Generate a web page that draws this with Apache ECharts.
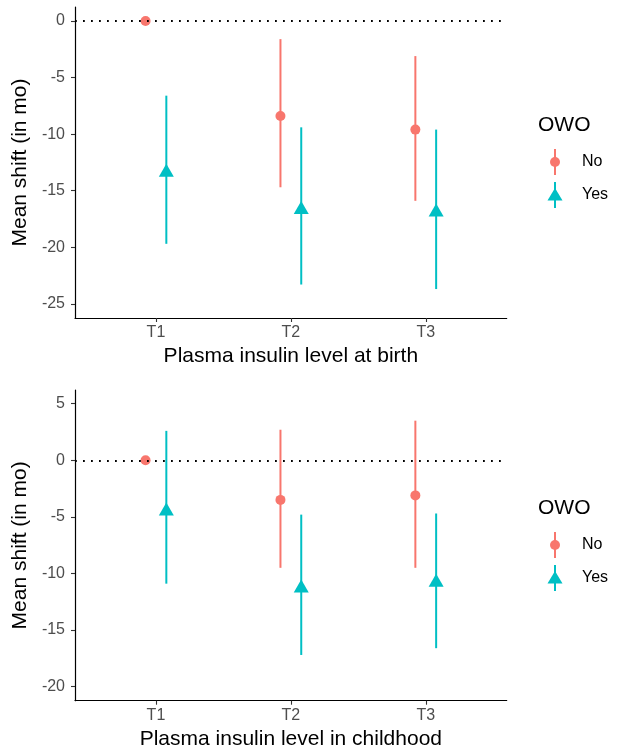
<!DOCTYPE html>
<html>
<head>
<meta charset="utf-8">
<script src="https://cdn.jsdelivr.net/npm/echarts@6/dist/echarts.min.js"></script>
<style>
html,body{margin:0;padding:0;background:#fff;}
#chart{width:617px;height:751px;}
</style>
</head>
<body>
<div id="chart"></div>
<script>
// ---- data ----
const categories = ['T1', 'T2', 'T3'];
const groups = ['No', 'Yes'];
const legendTitle = 'OWO';
const yTitle = 'Mean shift (in mo)';
const xTitleBirth = 'Plasma insulin level at birth';
const xTitleChild = 'Plasma insulin level in childhood';

const birthNoMean  = [0, -8.4, -9.6];
const birthNoLow   = [null, -14.7, -15.9];
const birthNoHigh  = [null, -1.6, -3.1];
const birthYesMean = [-13.2, -16.5, -16.7];
const birthYesLow  = [-19.7, -23.3, -23.7];
const birthYesHigh = [-6.6, -9.4, -9.6];

const childNoMean  = [0, -3.5, -3.1];
const childNoLow   = [null, -9.5, -9.5];
const childNoHigh  = [null, 2.7, 3.5];
const childYesMean = [-4.3, -11.1, -10.6];
const childYesLow  = [-10.9, -17.2, -16.6];
const childYesHigh = [2.6, -4.8, -4.7];

const birthTicks = [-25, -20, -15, -10, -5, 0];
const childTicks = [-20, -15, -10, -5, 0, 5];

// ---- styling ----
const colors = ['#F8766D', '#00BFC4'];
const symbols = ['circle', 'triangle'];
const symbolSizes = [10, [15, 13]];
const dodge = 0.077;
const FONT = 'Liberation Sans, Arial, sans-serif';

const chart = echarts.init(document.getElementById('chart'), null, {renderer: 'canvas'});

function pointData(means, gi) {
  return means.map((m, i) => [i + 1 + (gi === 0 ? -dodge : dodge), m]);
}
function barData(lows, highs, gi) {
  const out = [];
  lows.forEach((lo, i) => {
    if (lo === null || highs[i] === null) return;
    out.push([i + 1 + (gi === 0 ? -dodge : dodge), lo, highs[i]]);
  });
  return out;
}
function errRender(color) {
  return function (params, api) {
    const x = api.value(0), lo = api.value(1), hi = api.value(2);
    const p1 = api.coord([x, lo]), p2 = api.coord([x, hi]);
    return {type: 'line', shape: {x1: p1[0], y1: p1[1], x2: p2[0], y2: p2[1]},
      style: {stroke: color, lineWidth: 2}};
  };
}

const grids = [
  {left: 75, right: 110.3, top: 7, height: 311},
  {left: 75, right: 110.3, top: 390, height: 310.7}
];

function xAxis(gi, title) {
  return {
    type: 'value', gridIndex: gi, min: 0.4, max: 3.6,
    name: title, nameLocation: 'middle', nameGap: 28,
    nameTextStyle: {color: '#000', fontSize: 21, fontFamily: FONT},
    axisLine: {show: true, onZero: false, lineStyle: {color: '#000', width: 1.2}},
    axisTick: {show: true, length: 4, customValues: [1, 2, 3], lineStyle: {color: '#333', width: 1.1}},
    axisLabel: {show: true, customValues: [1, 2, 3], margin: 7, color: '#4D4D4D', fontSize: 16, fontFamily: FONT,
      formatter: v => categories[Math.round(v) - 1]},
    splitLine: {show: false}
  };
}
function yAxis(gi, min, max, ticks) {
  return {
    type: 'value', gridIndex: gi, min: min, max: max,
    name: yTitle, nameLocation: 'middle', nameGap: 40.5, nameRotate: 90,
    nameTextStyle: {color: '#000', fontSize: 21, fontFamily: FONT},
    axisLine: {show: true, onZero: false, lineStyle: {color: '#000', width: 1.2}},
    axisTick: {show: true, length: 4, customValues: ticks, lineStyle: {color: '#333', width: 1.1}},
    axisLabel: {show: true, customValues: ticks, margin: 10, color: '#4D4D4D', fontSize: 16, fontFamily: FONT},
    splitLine: {show: false}
  };
}

const panels = [
  {means: [birthNoMean, birthYesMean], lows: [birthNoLow, birthYesLow], highs: [birthNoHigh, birthYesHigh]},
  {means: [childNoMean, childYesMean], lows: [childNoLow, childYesLow], highs: [childNoHigh, childYesHigh]}
];

const series = [];
panels.forEach((p, pi) => {
  series.push({
    type: 'line', xAxisIndex: pi, yAxisIndex: pi, data: [], z: 1, silent: true,
    markLine: {silent: true, symbol: 'none', label: {show: false},
      lineStyle: {color: '#000', type: [1.8, 6.2], width: 1.8},
      emphasis: {disabled: true},
      data: [{yAxis: 0}]}
  });
  groups.forEach((g, gi) => {
    series.push({
      type: 'custom', name: g, xAxisIndex: pi, yAxisIndex: pi, z: 2, silent: true,
      renderItem: errRender(colors[gi]),
      encode: {x: 0, y: [1, 2]},
      data: barData(p.lows[gi], p.highs[gi], gi)
    });
    series.push({
      type: 'scatter', name: g, xAxisIndex: pi, yAxisIndex: pi, z: 3, silent: true,
      symbol: symbols[gi], symbolSize: symbolSizes[gi],
      itemStyle: {color: colors[gi], opacity: 1},
      data: pointData(p.means[gi], gi)
    });
  });
});

// legend drawn as graphic (key: vertical line + symbol)
function legendGroup(top) {
  const children = [{
    type: 'text', x: 538, y: top,
    style: {text: legendTitle, fontSize: 21, fontFamily: FONT, fill: '#000', verticalAlign: 'middle'}
  }];
  const rows = [top + 37, top + 70];
  groups.forEach((g, gi) => {
    const cy = rows[gi], cx = 555;
    children.push({type: 'line', shape: {x1: cx, y1: cy - 13, x2: cx, y2: cy + 13},
      style: {stroke: colors[gi], lineWidth: 2}});
    if (gi === 0) {
      children.push({type: 'circle', shape: {cx: cx, cy: cy, r: 5}, style: {fill: colors[gi]}});
    } else {
      children.push({type: 'polygon', shape: {points: [[cx, cy - 7], [cx - 7.5, cy + 5.5], [cx + 7.5, cy + 5.5]]},
        style: {fill: colors[gi]}});
    }
    children.push({type: 'text', x: 582, y: cy,
      style: {text: g, fontSize: 16, fontFamily: FONT, fill: '#000', verticalAlign: 'middle'}});
  });
  return children;
}

chart.setOption({
  animation: false,
  backgroundColor: '#fff',
  grid: grids,
  xAxis: [xAxis(0, xTitleBirth), xAxis(1, xTitleChild)],
  yAxis: [yAxis(0, -26.26, 1.24, birthTicks), yAxis(1, -21.24, 6.21, childTicks)],
  series: series,
  graphic: [].concat(legendGroup(125), legendGroup(508))
});
</script>
</body>
</html>
